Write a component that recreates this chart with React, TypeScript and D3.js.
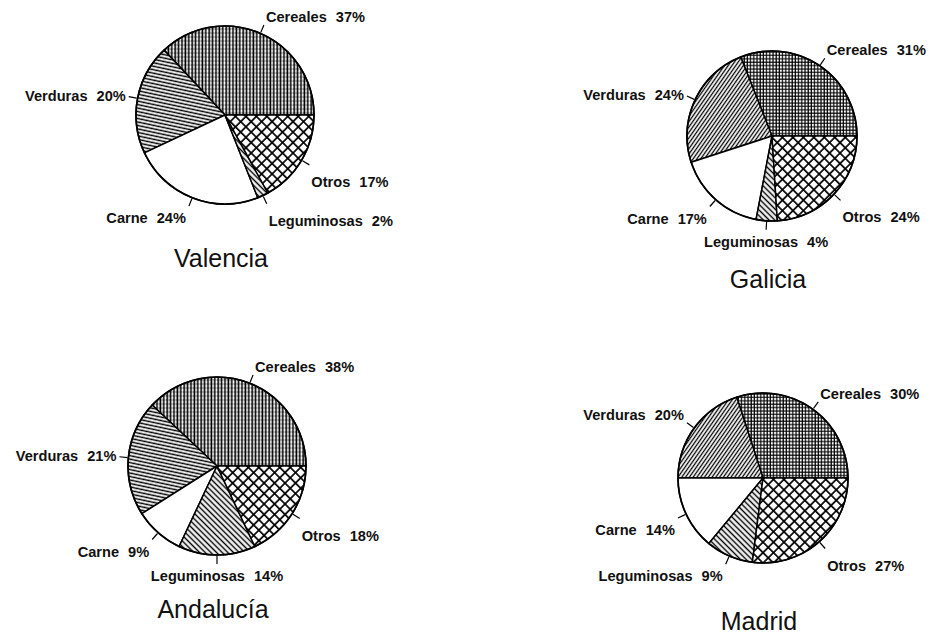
import React from 'react';
import * as d3 from 'd3';

// food share per region (%), order: counter-clockwise from 3 o'clock
const categories = ['Cereales', 'Verduras', 'Carne', 'Leguminosas', 'Otros'];
const regionNames = ['Valencia', 'Galicia', 'Andalucía', 'Madrid'];
const valencia = [37, 20, 24, 2, 17];
const galicia = [31, 24, 17, 4, 24];
const andalucia = [38, 21, 9, 14, 18];
const madrid = [30, 20, 14, 9, 27];

const W = 929;
const H = 634;

// panel layout (centre + radius of each pie), and which hatch set it uses
const panels = [
  { name: regionNames[0], values: valencia, cx: 225, cy: 115, r: 89, set: 'a' },
  { name: regionNames[1], values: galicia, cx: 772, cy: 136, r: 85, set: 'b' },
  { name: regionNames[2], values: andalucia, cx: 217, cy: 466, r: 89, set: 'a' },
  { name: regionNames[3], values: madrid, cx: 763, cy: 478, r: 85, set: 'b' },
];

const fills: Record<string, string[]> = {
  a: ['url(#cerV)', 'url(#verH)', '#fff', 'url(#leg)', 'url(#otr)'],
  b: ['url(#cerG)', 'url(#verD)', '#fff', 'url(#leg)', 'url(#otr)'],
};

const font = "'Liberation Sans', Arial, sans-serif";

const pie = d3
  .pie<number>()
  .sort(null)
  .startAngle(Math.PI / 2)
  .endAngle(Math.PI / 2 - 2 * Math.PI);

function Pie({ p }: { p: typeof panels[number] }) {
  const arcs = pie(p.values);
  const arc = d3.arc<d3.PieArcDatum<number>>().innerRadius(0).outerRadius(p.r);
  return (
    <g transform={`translate(${p.cx},${p.cy})`}>
      {arcs.map((a, i) => (
        <path
          key={i}
          d={arc(a) || ''}
          fill={fills[p.set][i]}
          stroke="#000"
          strokeWidth={1.5}
          strokeLinejoin="round"
        />
      ))}
      <circle r={p.r} fill="none" stroke="#000" strokeWidth={1.7} />
      {arcs.map((a, i) => {
        const mid = (a.startAngle + a.endAngle) / 2;
        const mx = Math.sin(mid);
        const my = -Math.cos(mid);
        const x0 = mx * (p.r + 1), y0 = my * (p.r + 1);
        const x1 = mx * (p.r + 9), y1 = my * (p.r + 9);
        const anchor = Math.abs(mx) < 0.15 ? 'middle' : mx > 0 ? 'start' : 'end';
        const tx = x1 + (anchor === 'start' ? 2 : anchor === 'end' ? -3 : 0);
        const ty = my < -0.5 ? y1 - 3 : my > 0.4 ? y1 + 17 + (mx > 0.4 ? 5 : 0) : y1 + 4;
        return (
          <g key={'l' + i}>
            <line x1={x0} y1={y0} x2={x1} y2={y1} stroke="#000" strokeWidth={1.2} />
            <text
              x={tx}
              y={ty}
              textAnchor={anchor}
              fontFamily={font}
              fontWeight="bold"
              fontSize={14.6}
              fill="#111"
            >
              {categories[i]}
              <tspan dx={9}>{p.values[i]}%</tspan>
            </text>
          </g>
        );
      })}
      <text x={-4} y={152} textAnchor="middle" fontFamily={font} fontSize={25} fill="#111">
        {p.name}
      </text>
    </g>
  );
}

export default function App() {
  return (
    <div style={{ position: 'absolute', left: 0, top: 0 }}>
      <svg width={W} height={H} style={{ display: 'block', background: '#fff' }}>
        <defs>
          {/* vertical lines with faint dotted cross rows */}
          <pattern id="cerV" width={3.4} height={4} patternUnits="userSpaceOnUse">
            <rect width={3.4} height={4} fill="#fff" />
            <line x1={1.2} y1={0} x2={1.2} y2={4} stroke="#000" strokeWidth={1.6} />
            <line x1={0} y1={2} x2={3.4} y2={2} stroke="#000" strokeWidth={0.6} strokeDasharray="1 1" />
          </pattern>
          {/* square grid */}
          <pattern id="cerG" width={3.2} height={3.4} patternUnits="userSpaceOnUse">
            <rect width={3.2} height={3.4} fill="#fff" />
            <line x1={1} y1={0} x2={1} y2={3.4} stroke="#000" strokeWidth={1.2} />
            <line x1={0} y1={1} x2={3.2} y2={1} stroke="#000" strokeWidth={1.1} />
          </pattern>
          {/* near-horizontal lines */}
          <pattern id="verH" width={12} height={3.4} patternUnits="userSpaceOnUse" patternTransform="rotate(12)">
            <rect width={12} height={3.4} fill="#fff" />
            <line x1={0} y1={1.2} x2={12} y2={1.2} stroke="#000" strokeWidth={1.5} />
          </pattern>
          {/* "/" diagonals */}
          <pattern id="verD" width={12} height={3.1} patternUnits="userSpaceOnUse" patternTransform="rotate(-55)">
            <rect width={12} height={3.1} fill="#fff" />
            <line x1={0} y1={1.2} x2={12} y2={1.2} stroke="#000" strokeWidth={1.3} />
          </pattern>
          {/* "\" diagonals */}
          <pattern id="leg" width={12} height={4} patternUnits="userSpaceOnUse" patternTransform="rotate(45)">
            <rect width={12} height={4} fill="#fff" />
            <line x1={0} y1={1.5} x2={12} y2={1.5} stroke="#000" strokeWidth={1.5} />
          </pattern>
          {/* diamond cross-hatch */}
          <pattern id="otr" width={7.4} height={7.4} patternUnits="userSpaceOnUse" patternTransform="rotate(45)">
            <rect width={7.4} height={7.4} fill="#fff" />
            <line x1={1} y1={0} x2={1} y2={7.4} stroke="#000" strokeWidth={1.7} />
            <line x1={0} y1={1} x2={7.4} y2={1} stroke="#000" strokeWidth={1.7} />
          </pattern>
        </defs>
        {panels.map((p) => (
          <Pie key={p.name} p={p} />
        ))}
      </svg>
    </div>
  );
}
